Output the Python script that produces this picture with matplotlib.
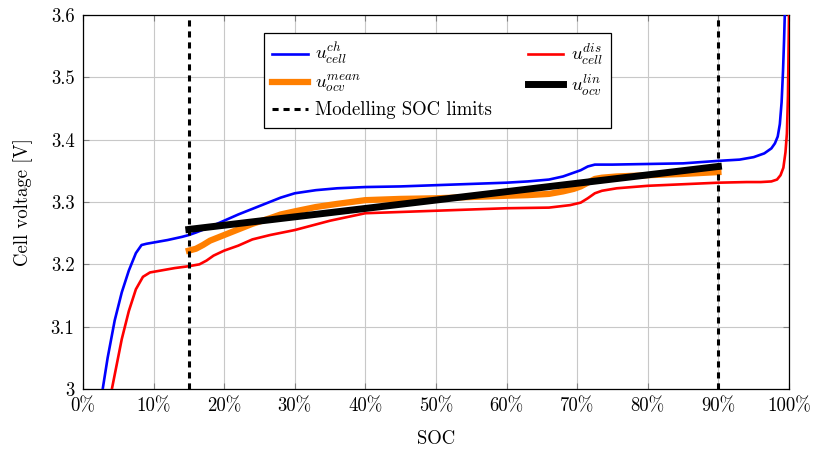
import matplotlib
matplotlib.use("Agg")
import matplotlib.pyplot as plt
from matplotlib.ticker import FuncFormatter, MultipleLocator

plt.rcParams["font.family"] = ["cmr10", "DejaVu Serif"]
plt.rcParams["mathtext.fontset"] = "cm"
plt.rcParams["axes.formatter.use_mathtext"] = True
plt.rcParams["font.size"] = 13.5

# charge curve
soc_ch = [2.8, 3.5, 4.5, 5.5, 6.5, 7.5, 8.3, 9, 10, 12, 14, 15, 16, 18, 20, 22, 24, 26,
          28, 30, 33, 36, 40, 45, 50, 55, 60, 63, 66, 68, 69.5, 70.5, 71.5, 72.5, 75,
          80, 85, 90, 93, 95, 96.5, 97.5, 98.0, 98.4, 98.7, 98.95, 99.15, 99.3, 99.4]
u_ch = [3.0, 3.05, 3.11, 3.155, 3.19, 3.218, 3.231, 3.233, 3.235, 3.239, 3.244, 3.247,
        3.251, 3.26, 3.27, 3.28, 3.289, 3.298, 3.307, 3.314, 3.319, 3.322, 3.324, 3.325,
        3.327, 3.329, 3.331, 3.333, 3.336, 3.341, 3.347, 3.351, 3.357, 3.36, 3.36,
        3.361, 3.362, 3.366, 3.368, 3.372, 3.378, 3.386, 3.394, 3.405, 3.425, 3.46, 3.51,
        3.56, 3.6]

# discharge curve
soc_dis = [4.1, 4.8, 5.5, 6.5, 7.5, 8.5, 9.5, 11, 13, 15, 16.5, 17.5, 18.5, 20, 22, 24,
           26.5, 30, 35, 40, 50, 60, 66, 69, 70.5, 71.5, 72.5, 73.5, 75.6, 80, 90, 94,
           96, 97.5, 98.3, 98.8, 99.2, 99.5, 99.7, 99.85, 100]
u_dis = [3.0, 3.04, 3.08, 3.125, 3.16, 3.18, 3.187, 3.19, 3.194, 3.197, 3.2, 3.206,
         3.214, 3.222, 3.23, 3.24, 3.247, 3.255, 3.27, 3.282, 3.286, 3.29, 3.291, 3.295,
         3.299, 3.306, 3.314, 3.318, 3.322, 3.326, 3.331, 3.332, 3.332, 3.333, 3.336,
         3.343, 3.355, 3.38, 3.41, 3.47, 3.6]

# mean ocv
soc_mean = [15, 16, 17, 18, 20, 22, 24, 26.5, 28, 30, 33, 36, 40, 45, 50, 55, 60, 63, 66,
            68, 69.5, 70.5, 71.5, 72.5, 73.5, 75.6, 80, 85, 90]
u_mean = [3.222, 3.225, 3.231, 3.238, 3.247, 3.256, 3.265, 3.274, 3.28, 3.285, 3.292,
          3.297, 3.303, 3.305, 3.306, 3.308, 3.31, 3.311, 3.313, 3.317, 3.321, 3.325,
          3.331, 3.337, 3.339, 3.341, 3.343, 3.345, 3.348]

# linear ocv
soc_lin = [15, 90]
u_lin = [3.256, 3.357]

soc_limits = [15, 90]

fig = plt.figure(figsize=(8.13, 4.49), dpi=100)
ax = fig.add_axes([0.102, 0.1336, 0.8685, 0.833])

ax.plot(soc_ch, u_ch, color="blue", lw=1.9, label=r"$u_{cell}^{ch}$", zorder=3)
ax.plot(soc_mean, u_mean, color="#ff7f00", lw=4.5, label=r"$u_{ocv}^{mean}$", zorder=4)
l_lim = None
for s in soc_limits:
    l_lim = ax.axvline(s, color="black", lw=2.2, ls=(0, (2, 1.6)), zorder=6)
ax.plot(soc_dis, u_dis, color="red", lw=1.9, label=r"$u_{cell}^{dis}$", zorder=3)
ax.plot(soc_lin, u_lin, color="black", lw=5, label=r"$u_{ocv}^{lin}$", zorder=5)

ax.set_xlim(0, 100)
ax.set_ylim(3.0, 3.6)
ax.xaxis.set_major_locator(MultipleLocator(10))
ax.yaxis.set_major_locator(MultipleLocator(0.1))
ax.xaxis.set_major_formatter(FuncFormatter(lambda v, p: "%d%%" % round(v)))
ax.yaxis.set_major_formatter(FuncFormatter(lambda v, p: "%g" % round(v, 2)))
ax.grid(True, color="#c8c8c8", lw=0.8)
ax.tick_params(direction="in", length=4, color="#808080", top=True, right=True,
               labelsize=13.5, pad=6)
for sp in ax.spines.values():
    sp.set_linewidth(0.9)

ax.set_xlabel("SOC", fontsize=13.5, labelpad=11)
ax.set_ylabel("Cell voltage [V]", fontsize=13.5, labelpad=13)

h, lab = ax.get_legend_handles_labels()
handles = [h[0], h[1], l_lim, h[2], h[3]]
labels = [lab[0], lab[1], "Modelling SOC limits", lab[2], lab[3]]
leg = ax.legend(handles, labels, ncol=2, loc="upper left", bbox_to_anchor=(0.256, 0.952),
                borderaxespad=0, fancybox=False, edgecolor="black", framealpha=1,
                handlelength=1.9, handletextpad=0.4, columnspacing=1.9,
                labelspacing=0.3, borderpad=0.45, fontsize=13.5)
leg.get_frame().set_linewidth(0.9)

fig.savefig("out.png", dpi=100)
